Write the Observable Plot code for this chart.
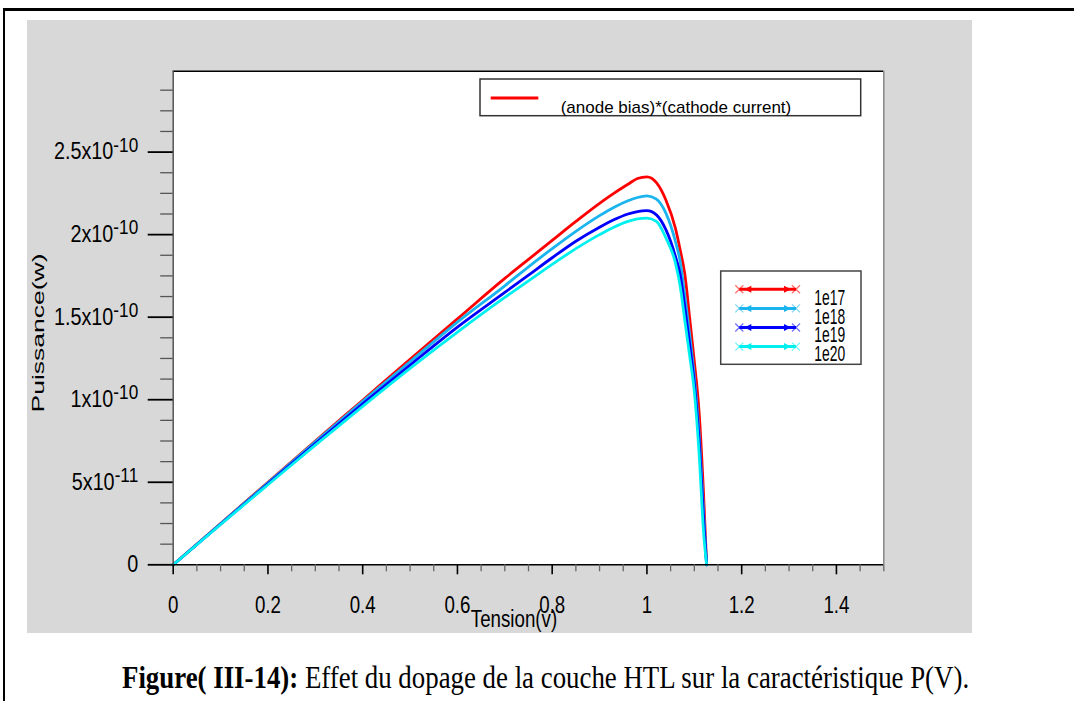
<!DOCTYPE html>
<html><head><meta charset="utf-8">
<script src="https://cdn.jsdelivr.net/npm/d3@7"></script>
<script src="https://cdn.jsdelivr.net/npm/@observablehq/plot@0.6"></script>
<style>
html,body{margin:0;padding:0;background:#fff;width:1074px;height:701px;overflow:hidden;}
#frame{position:absolute;left:3px;top:8px;width:1200px;height:1000px;border-top:3px solid #000;border-left:2px solid #000;}
#panel{position:absolute;left:27px;top:20px;width:945px;height:613px;background:#d8d8d8;}
#caption{position:absolute;left:122px;top:662px;font-family:"Liberation Serif","Times New Roman",serif;font-size:31px;line-height:31px;white-space:nowrap;transform:scaleX(0.866);transform-origin:0 0;color:#000;}
</style></head><body>
<div id="frame"></div>
<div id="panel"></div>
<div id="caption"><b>Figure( III-14):</b> Effet du dopage de la couche HTL sur la caractéristique P(V).</div>
<script>
// ---- data (power in units of 1e-10 W) ----
const seriesNames = ["1e17", "1e18", "1e19", "1e20"];
const seriesColors = ["#ff0000", "#1ab4ee", "#0000ff", "#00f0f0"];
const tension = [0, 0.1, 0.2, 0.3, 0.4, 0.5, 0.6, 0.7, 0.75, 0.8, 0.85, 0.9, 0.93, 0.96, 0.98, 1.0, 1.02, 1.04, 1.06, 1.07, 1.08, 1.09, 1.10, 1.11, 1.12, 1.126];
const p1e17 = [0, 0.25, 0.50, 0.75, 0.997, 1.245, 1.49, 1.735, 1.85, 1.965, 2.08, 2.19, 2.25, 2.305, 2.34, 2.35, 2.315, 2.21, 2.04, 1.91, 1.76, 1.50, 1.23, 0.93, 0.40, 0];
const p1e18 = [0, 0.249, 0.497, 0.745, 0.99, 1.23, 1.47, 1.69, 1.805, 1.915, 2.02, 2.115, 2.165, 2.205, 2.225, 2.235, 2.215, 2.13, 1.96, 1.84, 1.63, 1.40, 1.14, 0.80, 0.30, 0];
const p1e19 = [0, 0.246, 0.49, 0.735, 0.975, 1.21, 1.44, 1.65, 1.755, 1.86, 1.96, 2.045, 2.09, 2.125, 2.14, 2.145, 2.12, 2.03, 1.87, 1.76, 1.56, 1.34, 1.10, 0.76, 0.26, 0];
const p1e20 = [0, 0.244, 0.485, 0.725, 0.96, 1.19, 1.41, 1.62, 1.72, 1.82, 1.915, 2.0, 2.045, 2.08, 2.095, 2.10, 2.08, 1.98, 1.83, 1.69, 1.48, 1.27, 1.05, 0.68, 0.18, 0];
const unit = 1e-10;
const xMajorTicks = [0, 0.2, 0.4, 0.6, 0.8, 1, 1.2, 1.4];
const yMajorTicks = [0, 0.5, 1, 1.5, 2, 2.5]; // x 1e-10
const xDomain = [0, 1.5];
const yDomain = [0, 2.99]; // x 1e-10
const axisLabelX = "Tension(v)";
const axisLabelY = "Puissance(w)";
const legendTitle = "(anode bias)*(cathode current)";

const powers = [p1e17, p1e18, p1e19, p1e20];
const rows = seriesNames.flatMap((s, k) => tension.map((v, i) => ({series: s, v, p: powers[k][i] * unit})));
const xMinor = d3.range(1, 31).filter(i => i % 4 !== 0).map(i => +(i * 0.05).toFixed(3));
const yMinor = d3.range(1, 24).filter(i => i % 4 !== 0).map(i => i * 0.125 * unit);

function fmtY(d) {
  if (d === 0) return "0";
  const e = Math.floor(Math.log10(d) + 1e-9);
  const m = +(d / Math.pow(10, e)).toFixed(2);
  return m + "x10^" + e;
}

const plot = Plot.plot({
  width: 945, height: 613,
  marginLeft: 145.7, marginRight: 88.7, marginTop: 50.7, marginBottom: 68.7,
  style: {background: "transparent", fontFamily: "'Liberation Sans', Arial, sans-serif", color: "#000", overflow: "visible"},
  x: {domain: xDomain},
  y: {domain: yDomain.map(d => d * unit)},
  color: {domain: seriesNames, range: seriesColors},
  marks: [
    Plot.frame({fill: "white", stroke: "none"}),
    Plot.line(rows, {x: "v", y: "p", z: "series", stroke: "series", strokeWidth: 2.8, curve: "monotone-x"}),
    Plot.ruleY([0], {stroke: "#000", strokeWidth: 1.6}),
    Plot.ruleY([yDomain[1] * unit], {stroke: "#000", strokeWidth: 1.5}),
    Plot.ruleX([0], {stroke: "#555", strokeWidth: 1.5}),
    Plot.ruleX([xDomain[1]], {stroke: "#888", strokeWidth: 1.5}),
    Plot.axisX(xMinor, {tickSize: 7, stroke: "#666", strokeWidth: 1.3, fill: null, label: null}),
    Plot.axisX(xMajorTicks, {tickSize: 10, tickPadding: 21.4, strokeWidth: 1.6, tickFormat: d => String(+d.toFixed(2)), label: axisLabelX, labelAnchor: "center", fontSize: 24}),
    Plot.axisY(yMinor, {tickSize: 12.5, stroke: "#555", strokeWidth: 1.3, fill: null, label: null}),
    Plot.axisY(yMajorTicks.map(d => d * unit), {tickSize: 25, tickPadding: 10, strokeWidth: 1.8, tickFormat: fmtY, label: axisLabelY, labelAnchor: "center", fontSize: 23})
  ]
});
document.getElementById("panel").appendChild(plot);

const svg = d3.select(plot);
function addScale(node, sx) {
  let tr = node.getAttribute("transform");
  if (!tr) {
    const x = node.getAttribute("x") || 0, y = node.getAttribute("y") || 0;
    tr = `translate(${x},${y})`;
    node.removeAttribute("x"); node.removeAttribute("y");
  }
  node.setAttribute("transform", tr + ` scale(${sx},1)`);
}
svg.selectAll('g[aria-label="x-axis tick label"]').attr("font-size", 24);
svg.selectAll('g[aria-label="x-axis tick label"] text').each(function() { addScale(this, 0.78); });
svg.selectAll('g[aria-label="y-axis tick label"]').attr("font-size", 23);
svg.selectAll('g[aria-label="y-axis tick label"] text').each(function() {
  const parts = this.textContent.split("^");
  if (parts.length === 2) {
    const t = d3.select(this);
    t.text(null);
    t.append("tspan").text(parts[0]);
    t.append("tspan").attr("font-size", 20).attr("dy", -7.6).text(parts[1]);
  }
  addScale(this, 0.86);
});
// axis labels
const yl = svg.select('g[aria-label="y-axis label"]');
yl.attr("transform", null).attr("font-size", 17);
yl.select("text").text(axisLabelY).attr("x", null).attr("y", null).attr("dy", null)
  .attr("text-anchor", "middle").attr("font-size", 17)
  .attr("transform", "translate(17,313) rotate(-90) scale(1.56,1)");
const xl = svg.select('g[aria-label="x-axis label"]');
xl.attr("transform", null).attr("font-size", 24);
xl.select("text").text(axisLabelX).attr("x", null).attr("y", null).attr("dy", null)
  .attr("text-anchor", "middle").attr("font-size", 24)
  .attr("transform", "translate(487,607.3) scale(0.78,1)");

// legends (layout in panel pixels)
const lg = svg.append("g").attr("font-family", "'Liberation Sans', Arial, sans-serif").attr("text-anchor", "start");
lg.append("rect").attr("x", 453).attr("y", 59).attr("width", 380.7).attr("height", 36.7)
  .attr("fill", "white").attr("stroke", "#333").attr("stroke-width", 1.5);
lg.append("line").attr("x1", 463.7).attr("x2", 511.3).attr("y1", 78).attr("y2", 78)
  .attr("stroke", seriesColors[0]).attr("stroke-width", 3);
lg.append("text").attr("x", 533.7).attr("y", 93.3).attr("font-size", 17).attr("fill", "#000")
  .attr("text-anchor", "start").text(legendTitle);

lg.append("rect").attr("x", 693.7).attr("y", 251).attr("width", 140.3).attr("height", 93.3)
  .attr("fill", "white").attr("stroke", "#444").attr("stroke-width", 1.5);
const x0 = 712.3, x1 = 769;
seriesNames.forEach((name, k) => {
  const y = 269.3 + k * 19.1, c = seriesColors[k];
  const g = lg.append("g");
  g.append("line").attr("x1", x0).attr("x2", x1).attr("y1", y).attr("y2", y).attr("stroke", c).attr("stroke-width", 3);
  g.append("path").attr("d", `M${x0 + 12},${y - 3.5}L${x0 + 5},${y}L${x0 + 12},${y + 3.5}Z`).attr("fill", c);
  g.append("path").attr("d", `M${x1 - 12},${y - 3.5}L${x1 - 5},${y}L${x1 - 12},${y + 3.5}Z`).attr("fill", c);
  [x0, x1].forEach(xx => {
    g.append("path").attr("d", `M${xx - 4},${y - 4}L${xx + 4},${y + 4}M${xx - 4},${y + 4}L${xx + 4},${y - 4}`)
      .attr("stroke", c).attr("stroke-width", 1.3).attr("opacity", 0.55);
  });
  g.append("text").attr("transform", `translate(787.3,${285 + k * 18.7}) scale(0.63,1)`)
    .attr("text-anchor", "start").attr("font-size", 22).attr("fill", "#000").text(name);
});
</script>
</body></html>
